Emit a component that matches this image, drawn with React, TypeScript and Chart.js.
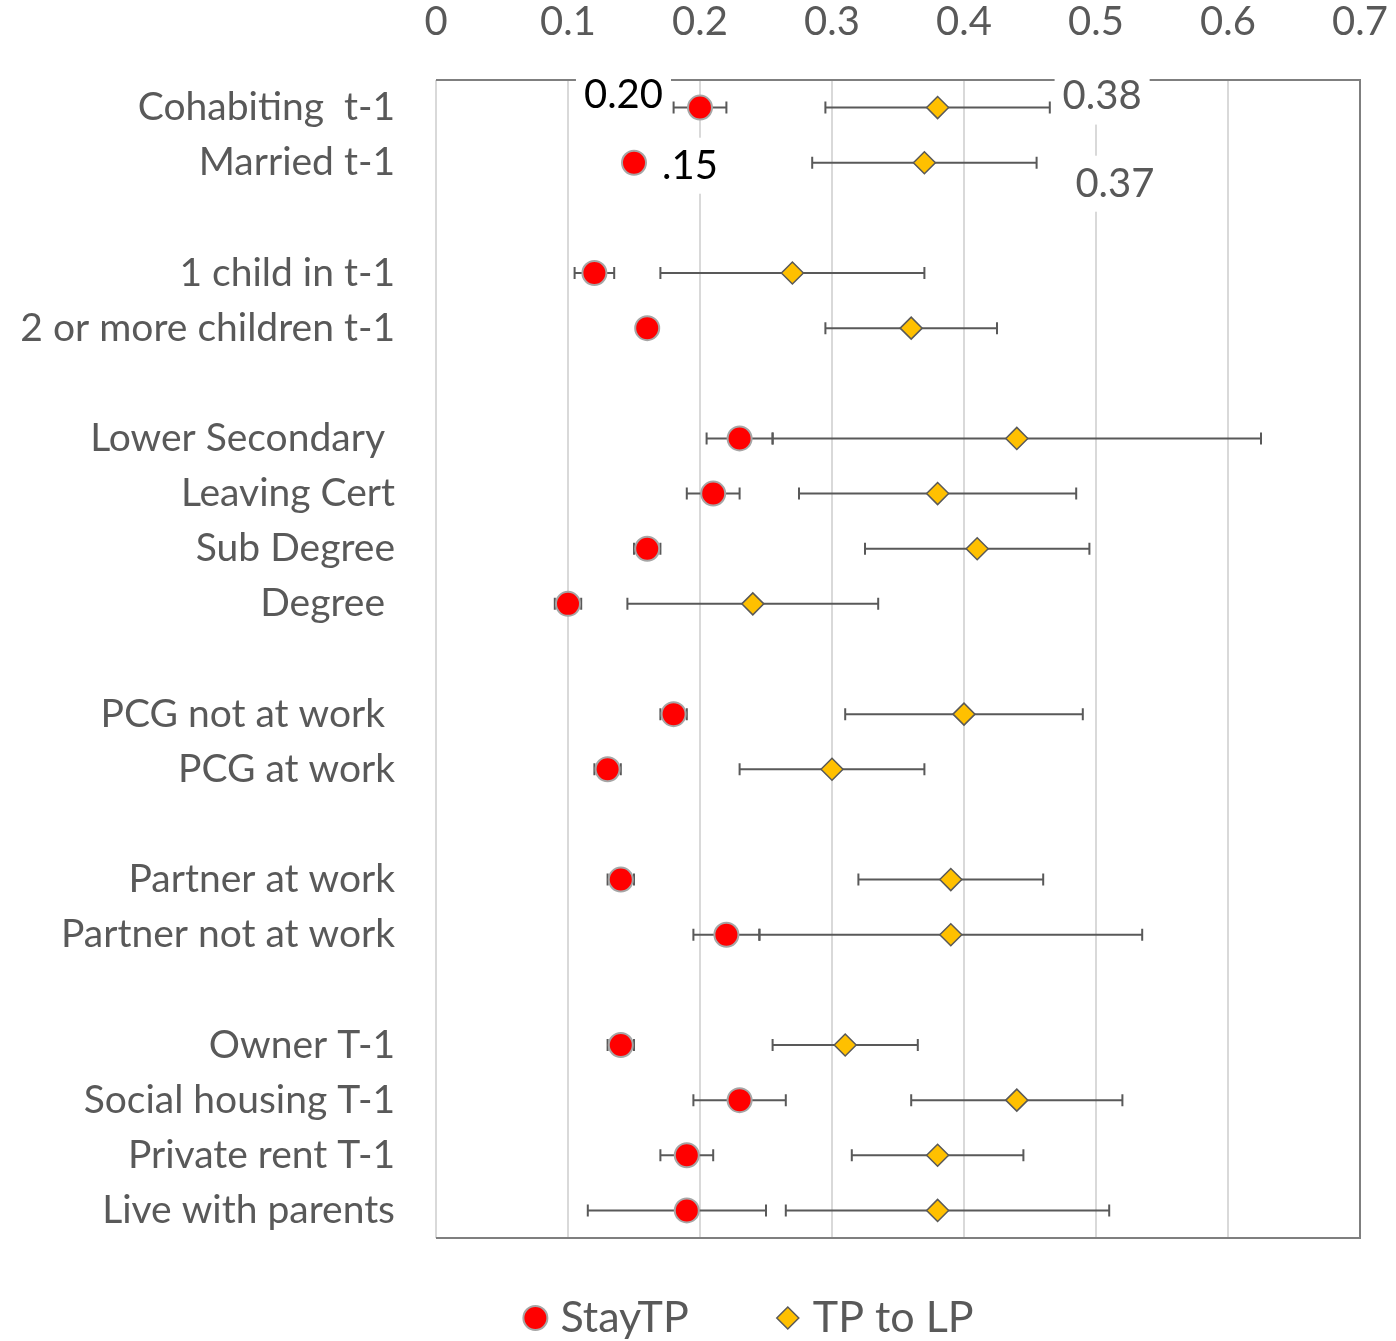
import React, { useEffect, useRef } from 'react';
import { Chart, registerables } from 'chart.js';

Chart.register(...registerables);

const FONT = 'Lato, "Open Sans", sans-serif';
const TEXT = '#595959';

// Row labels; empty strings are spacer rows between groups
const categories = [
  'Cohabiting  t-1',
  'Married t-1',
  '',
  '1 child in t-1',
  '2 or more children t-1',
  '',
  'Lower Secondary ',
  'Leaving Cert',
  'Sub Degree',
  'Degree ',
  '',
  'PCG not at work ',
  'PCG at work',
  '',
  'Partner at work',
  'Partner not at work',
  '',
  'Owner T-1',
  'Social housing T-1',
  'Private rent T-1',
  'Live with parents',
];

// StayTP estimates and confidence bounds
const stayTP = [0.2, 0.15, null, 0.12, 0.16, null, 0.23, 0.21, 0.16, 0.1, null, 0.18, 0.13, null, 0.14, 0.22, null, 0.14, 0.23, 0.19, 0.19];
const stayLow = [0.18, 0.145, null, 0.105, 0.155, null, 0.205, 0.19, 0.15, 0.09, null, 0.17, 0.12, null, 0.13, 0.195, null, 0.13, 0.195, 0.17, 0.115];
const stayHigh = [0.22, 0.155, null, 0.135, 0.165, null, 0.255, 0.23, 0.17, 0.11, null, 0.19, 0.14, null, 0.15, 0.245, null, 0.15, 0.265, 0.21, 0.25];

// TP to LP estimates and confidence bounds
const tpToLP = [0.38, 0.37, null, 0.27, 0.36, null, 0.44, 0.38, 0.41, 0.24, null, 0.4, 0.3, null, 0.39, 0.39, null, 0.31, 0.44, 0.38, 0.38];
const tpLow = [0.295, 0.285, null, 0.17, 0.295, null, 0.255, 0.275, 0.325, 0.145, null, 0.31, 0.23, null, 0.32, 0.245, null, 0.255, 0.36, 0.315, 0.265];
const tpHigh = [0.465, 0.455, null, 0.37, 0.425, null, 0.625, 0.485, 0.495, 0.335, null, 0.49, 0.37, null, 0.46, 0.535, null, 0.365, 0.52, 0.445, 0.51];

const xTicks = [0, 0.1, 0.2, 0.3, 0.4, 0.5, 0.6, 0.7];

const seriesNames = ['StayTP', 'TP to LP'];

const two = (v: number) => v.toFixed(2);
const bare = (v: number) => v.toFixed(2).replace(/^0/, '');

// Value callouts: which series/row, text, and placement relative to the point
const callouts = [
  { ds: 0, row: 0, text: two(stayTP[0] as number), dx: -37, dy: -12, align: 'right', color: '#000000' },
  { ds: 0, row: 1, text: bare(stayTP[1] as number), dx: 28, dy: 3, align: 'left', color: '#000000' },
  { ds: 1, row: 0, text: two(tpToLP[0] as number), dx: 125, dy: -11, align: 'left', color: TEXT },
  { ds: 1, row: 1, text: two(tpToLP[1] as number), dx: 151, dy: 21, align: 'left', color: TEXT },
];

const toPoints = (vals: (number | null)[]) =>
  vals.map((v, i) => (v == null ? null : { x: v, y: i })).filter((p) => p !== null);

const framePlugin = {
  id: 'frame',
  beforeDatasetsDraw(chart: any) {
    const { ctx, chartArea: a } = chart;
    ctx.save();
    ctx.strokeStyle = '#7F7F7F';
    ctx.lineWidth = 2;
    ctx.beginPath();
    ctx.moveTo(a.left, a.top);
    ctx.lineTo(a.right, a.top);
    ctx.lineTo(a.right, a.bottom);
    ctx.lineTo(a.left, a.bottom);
    ctx.stroke();
    ctx.restore();
  },
};

const errorBarPlugin = {
  id: 'errorBars',
  beforeDatasetsDraw(chart: any) {
    const { ctx } = chart;
    const x = chart.scales.x;
    const y = chart.scales.y;
    ctx.save();
    ctx.strokeStyle = '#595959';
    ctx.lineWidth = 2;
    const cap = 6;
    const draw = (lo: (number | null)[], hi: (number | null)[]) => {
      lo.forEach((l, i) => {
        const h = hi[i];
        if (l == null || h == null) return;
        const py = y.getPixelForValue(i);
        const x1 = x.getPixelForValue(l);
        const x2 = x.getPixelForValue(h);
        ctx.beginPath();
        ctx.moveTo(x1, py);
        ctx.lineTo(x2, py);
        ctx.moveTo(x1, py - cap);
        ctx.lineTo(x1, py + cap);
        ctx.moveTo(x2, py - cap);
        ctx.lineTo(x2, py + cap);
        ctx.stroke();
      });
    };
    draw(tpLow, tpHigh);
    draw(stayLow, stayHigh);
    ctx.restore();
  },
};

const calloutPlugin = {
  id: 'callouts',
  afterDatasetsDraw(chart: any) {
    const { ctx } = chart;
    const x = chart.scales.x;
    const y = chart.scales.y;
    const series = [stayTP, tpToLP];
    ctx.save();
    ctx.font = `40px ${FONT}`;
    ctx.textBaseline = 'middle';
    callouts.forEach((c) => {
      const v = series[c.ds][c.row] as number;
      const px = x.getPixelForValue(v) + c.dx;
      const py = y.getPixelForValue(c.row) + c.dy;
      const w = ctx.measureText(c.text).width;
      const left = c.align === 'right' ? px - w : px;
      ctx.fillStyle = '#ffffff';
      ctx.fillRect(left - 8, py - 28, w + 16, 56);
      ctx.fillStyle = c.color;
      ctx.textAlign = 'left';
      ctx.fillText(c.text, left, py);
    });
    ctx.restore();
  },
};

const legendPlugin = {
  id: 'customLegend',
  afterDraw(chart: any) {
    const { ctx, chartArea: a } = chart;
    ctx.save();
    ctx.font = `43px ${FONT}`;
    ctx.textBaseline = 'middle';
    const cy = a.bottom + 80;
    const w1 = ctx.measureText(seriesNames[0]).width;
    const w2 = ctx.measureText(seriesNames[1]).width;
    const total = 13 + 25 + w1 + 88 + 11 + 25 + w2;
    let cx = 748 - total / 2;
    // circle marker
    ctx.beginPath();
    ctx.arc(cx + 13, cy, 12, 0, Math.PI * 2);
    ctx.fillStyle = '#FF0000';
    ctx.fill();
    ctx.lineWidth = 2;
    ctx.strokeStyle = '#A6A6A6';
    ctx.stroke();
    ctx.fillStyle = TEXT;
    ctx.fillText(seriesNames[0], cx + 38, cy);
    cx = cx + 38 + w1 + 88;
    // diamond marker
    const r = 11;
    ctx.beginPath();
    ctx.moveTo(cx + 11 - r, cy);
    ctx.lineTo(cx + 11, cy - r);
    ctx.lineTo(cx + 11 + r, cy);
    ctx.lineTo(cx + 11, cy + r);
    ctx.closePath();
    ctx.fillStyle = '#FFC000';
    ctx.fill();
    ctx.strokeStyle = '#595959';
    ctx.lineWidth = 1.5;
    ctx.stroke();
    ctx.fillStyle = TEXT;
    ctx.fillText(seriesNames[1], cx + 36, cy);
    ctx.restore();
  },
};

export default function App() {
  const canvasRef = useRef<HTMLCanvasElement | null>(null);

  useEffect(() => {
    if (!canvasRef.current) return;
    const chart = new Chart(canvasRef.current, {
      type: 'scatter',
      data: {
        datasets: [
          {
            label: seriesNames[0],
            data: toPoints(stayTP) as any,
            pointStyle: 'circle',
            pointRadius: 12,
            pointBackgroundColor: '#FF0000',
            pointBorderColor: '#A6A6A6',
            pointBorderWidth: 2,
            order: 1,
          },
          {
            label: seriesNames[1],
            data: toPoints(tpToLP) as any,
            pointStyle: 'rectRot',
            pointRadius: 11,
            pointBackgroundColor: '#FFC000',
            pointBorderColor: '#595959',
            pointBorderWidth: 1.5,
            order: 2,
          },
        ],
      },
      options: {
        responsive: false,
        animation: false,
        devicePixelRatio: 1,
        layout: { padding: { left: 0, right: 36, top: 0, bottom: 103 } },
        plugins: {
          legend: { display: false },
          tooltip: { enabled: false },
        },
        scales: {
          x: {
            type: 'linear',
            position: 'top',
            min: 0,
            max: 0.7,
            afterBuildTicks: (scale: any) => {
              scale.ticks = xTicks.map((v) => ({ value: v }));
            },
            afterFit: (scale: any) => {
              scale.height = 80;
              scale.paddingLeft = 0;
              scale.paddingRight = 0;
            },
            ticks: {
              color: TEXT,
              font: { family: FONT, size: 40 },
              padding: 34,
              callback: (v: any) => (Number(v) === 0 ? '0' : Number(v).toFixed(1)),
            },
            grid: { color: '#D9D9D9', lineWidth: 2, drawTicks: false },
            border: { display: false },
          },
          y: {
            type: 'linear',
            reverse: true,
            min: -0.5,
            max: categories.length - 0.5,
            afterBuildTicks: (scale: any) => {
              scale.ticks = categories.map((_, i) => ({ value: i }));
            },
            afterFit: (scale: any) => {
              scale.width = 436;
              scale.paddingTop = 0;
              scale.paddingBottom = 0;
            },
            ticks: {
              color: TEXT,
              font: { family: FONT, size: 39 },
              padding: 41,
              autoSkip: false,
              callback: (v: any) => categories[Number(v)] ?? '',
            },
            grid: { display: false, drawTicks: false },
            border: { display: false },
          },
        },
      },
      plugins: [framePlugin, errorBarPlugin, calloutPlugin, legendPlugin],
    } as any);
    return () => chart.destroy();
  }, []);

  return (
    <div style={{ position: 'absolute', left: 0, top: 0, width: 1396, height: 1341, background: '#ffffff' }}>
      <canvas ref={canvasRef} width={1396} height={1341} />
    </div>
  );
}
